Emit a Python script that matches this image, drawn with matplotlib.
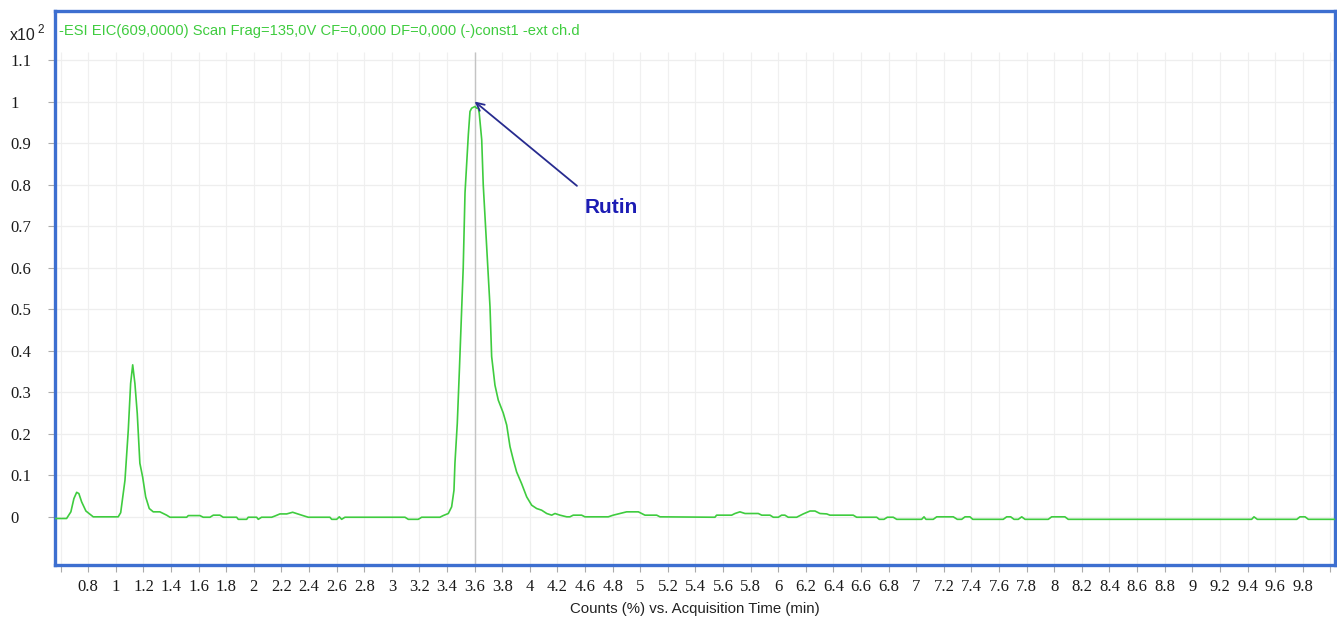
import numpy as np
import matplotlib
matplotlib.use("Agg")
import matplotlib.pyplot as plt

# Extracted ion chromatogram, EIC(609) - counts in units of x10^2
time_min = [0.559, 0.643, 0.674, 0.696, 0.716, 0.732, 0.752, 0.783, 0.836, 1.017,
            1.035, 1.066, 1.090, 1.107, 1.122, 1.138, 1.155, 1.174, 1.194, 1.216,
            1.242, 1.271, 1.319, 1.368, 1.392, 1.513, 1.525, 1.609, 1.633, 1.682,
            1.706, 1.754, 1.778, 1.875, 1.887, 1.948, 1.959, 2.020, 2.032, 2.056,
            2.129, 2.153, 2.189, 2.238, 2.281, 2.310, 2.346, 2.394, 2.551, 2.564,
            2.600, 2.619, 2.636, 2.660, 3.095, 3.119, 3.191, 3.216, 3.348, 3.372,
            3.409, 3.433, 3.450, 3.457, 3.474, 3.490, 3.517, 3.530, 3.542, 3.554,
            3.566, 3.578, 3.602, 3.614, 3.626, 3.633, 3.651, 3.662, 3.687, 3.711,
            3.723, 3.747, 3.771, 3.807, 3.832, 3.856, 3.880, 3.904, 3.940, 3.977,
            4.013, 4.049, 4.085, 4.122, 4.158, 4.182, 4.218, 4.267, 4.290, 4.314,
            4.375, 4.399, 4.568, 4.604, 4.653, 4.701, 4.786, 4.834, 4.919, 4.943,
            5.341, 5.353, 5.462, 5.486, 5.522, 5.559, 5.655, 5.680, 5.740, 5.764,
            5.800, 5.824, 5.848, 5.872, 5.933, 5.981, 6.030, 6.066, 6.102, 6.151,
            6.174, 6.343, 6.368, 6.513, 6.532, 6.566, 6.590, 6.633, 6.658, 6.839,
            6.856, 6.870, 6.923, 6.948, 7.068, 7.097, 7.129, 7.153, 7.189, 7.209,
            7.430, 7.455, 7.484, 7.508, 7.539, 7.564, 7.588, 7.756, 7.781, 7.877,
            7.901, 9.230, 9.247, 9.271, 9.557, 9.580, 9.617, 9.641, 9.849]
counts = [-0.004, -0.004, 0.012, 0.044, 0.059, 0.056, 0.036, 0.014, 0.000, 0.000,
          0.010, 0.088, 0.209, 0.321, 0.366, 0.321, 0.249, 0.129, 0.096, 0.048,
          0.020, 0.012, 0.012, 0.004, -0.001, -0.001, 0.003, 0.003, -0.001, -0.001,
          0.004, 0.004, -0.001, -0.001, -0.006, -0.006, -0.001, -0.001, -0.006, -0.001,
          -0.001, 0.002, 0.007, 0.007, 0.011, 0.008, 0.004, -0.001, -0.001, -0.006,
          -0.006, 0.000, -0.006, -0.001, -0.001, -0.006, -0.006, -0.001, -0.001, 0.003,
          0.008, 0.024, 0.064, 0.129, 0.225, 0.360, 0.600, 0.780, 0.852, 0.920,
          0.976, 0.984, 0.988, 0.984, 0.984, 0.972, 0.908, 0.800, 0.650, 0.506,
          0.386, 0.317, 0.281, 0.250, 0.221, 0.169, 0.137, 0.108, 0.080, 0.048,
          0.028, 0.020, 0.016, 0.008, 0.004, 0.008, 0.004, 0.000, 0.000, 0.004,
          0.004, 0.000, 0.000, 0.004, 0.008, 0.012, 0.012, 0.004, 0.004, 0.000,
          -0.001, 0.004, 0.004, 0.008, 0.012, 0.008, 0.008, 0.004, 0.004, -0.001,
          -0.001, 0.004, 0.004, -0.001, -0.001, 0.007, 0.014, 0.014, 0.008, 0.007,
          0.004, 0.004, -0.001, -0.001, -0.006, -0.006, -0.001, -0.001, -0.006, -0.006,
          0.000, -0.006, -0.006, 0.000, 0.000, -0.006, -0.006, 0.000, 0.000, -0.006,
          -0.006, 0.000, 0.000, -0.006, -0.006, 0.000, -0.006, -0.006, 0.000, 0.000,
          -0.006, -0.006, 0.000, -0.006, -0.006, 0.000, 0.000, -0.006, -0.006]

# tick labels as printed on the instrument export (4.4 is missing there)
x_tick_labels = ['0.8', '1', '1.2', '1.4', '1.6', '1.8', '2', '2.2', '2.4', '2.6',
                 '2.8', '3', '3.2', '3.4', '3.6', '3.8', '4', '4.2', '4.6', '4.8',
                 '5', '5.2', '5.4', '5.6', '5.8', '6', '6.2', '6.4', '6.6', '6.8',
                 '7', '7.2', '7.4', '7.6', '7.8', '8', '8.2', '8.4', '8.6', '8.8',
                 '9', '9.2', '9.4', '9.6', '9.8']
y_tick_labels = ['0', '0.1', '0.2', '0.3', '0.4', '0.5', '0.6', '0.7', '0.8',
                 '0.9', '1', '1.1']

peak_time = 3.6
peak_label = 'Rutin'
trace_title = '-ESI EIC(609,0000) Scan Frag=135,0V CF=0,000 DF=0,000 (-)const1 -ext ch.d'

green = '#3fcc3f'
sans = ['Liberation Sans', 'DejaVu Sans']
serif = ['Liberation Serif', 'DejaVu Serif']

fig = plt.figure(figsize=(13.37, 6.21), dpi=100)
ax = fig.add_axes([55 / 1337, 56 / 621, 1280 / 1337, 554 / 621])

xmin, xmax = 0.559, 9.834
ymin, ymax = -0.116, 1.218
ax.set_xlim(xmin, xmax)
ax.set_ylim(ymin, ymax)

all_x_ticks = np.round(np.arange(0.6, 9.81, 0.2), 2)
y_ticks = np.round(np.arange(0, 1.11, 0.1), 2)

# light grid
ax.vlines(all_x_ticks, ymin, 1.12, color='#f0f0f0', lw=0.9, zorder=0)
ax.hlines(y_ticks, xmin, xmax, color='#eeeeee', lw=0.9, zorder=0)
# cursor line at the peak
ax.vlines(peak_time, ymin, 1.12, color='#c4c4c4', lw=1.0, zorder=1)

ax.plot(time_min, counts, color=green, lw=1.2, zorder=3)

for s in ax.spines.values():
    s.set_color('#3d6fd0')
    s.set_linewidth(2.4)

ax.set_xticks(all_x_ticks)
ax.set_xticklabels([''] + x_tick_labels + [''], family=serif, fontsize=12, color='#1a1a1a')
ax.set_yticks(y_ticks)
ax.set_yticklabels(y_tick_labels, family=serif, fontsize=12, color='#1a1a1a', ha='left')
ax.tick_params(axis='x', length=5, width=0.8, color='#aaaaaa', pad=5)
ax.tick_params(axis='y', length=5, width=0.8, color='#aaaaaa', pad=27)

ax.set_xlabel('Counts (%) vs. Acquisition Time (min)', family=sans, fontsize=10.8,
              color='#222222', labelpad=5)

ax.text(0.003, 0.963, trace_title, transform=ax.transAxes, family=sans,
        fontsize=10.6, color=green, va='center', ha='left')
fig.text(10 / 1337, 1 - 35 / 621, 'x10', family=sans, fontsize=11.5,
         color='#222222', va='center', ha='left')
fig.text(37 / 1337, 1 - 30 / 621, '2', family=sans, fontsize=8.5,
         color='#222222', va='center', ha='left')

ax.annotate('', xy=(peak_time, 1.0), xytext=(4.341, 0.797),
            arrowprops=dict(arrowstyle='->', color='#272b8f', lw=1.3,
                            mutation_scale=14, shrinkA=0, shrinkB=0))
ax.text(4.40, 0.744, peak_label, family=sans, fontsize=15, fontweight='bold',
        color='#1c1cb4', va='center', ha='left')

fig.savefig('out.png', dpi=100)
